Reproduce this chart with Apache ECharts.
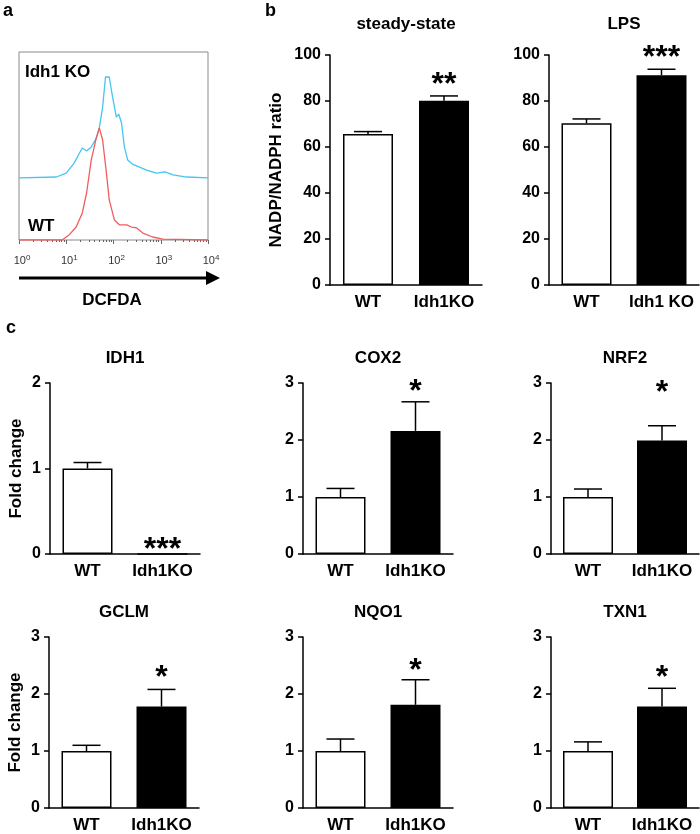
<!DOCTYPE html>
<html><head><meta charset="utf-8">
<script src="https://cdn.jsdelivr.net/npm/echarts@6/dist/echarts.min.js"></script>
<style>html,body{margin:0;padding:0;background:#fff}#c{width:700px;height:834px}</style>
</head><body><div id="c"></div>
<script>
// ---------- Panel a: DCFDA flow histogram (x = log10 fluorescence, y = relative count) ----------
const koLogFluor = [0, 0.79, 1.0, 1.17, 1.28, 1.34, 1.43, 1.53, 1.64, 1.70, 1.77, 1.83, 1.91, 1.98, 2.06, 2.11, 2.17, 2.23, 2.30, 2.40, 2.55, 2.70, 2.91, 3.09, 3.26, 3.55, 4.0];
const koCount    = [33.0, 33.5, 35.6, 41.0, 46.3, 48.9, 47.3, 49.5, 54.3, 59.6, 70.7, 86.7, 86.7, 76.1, 65.4, 67.0, 62.2, 49.5, 42.6, 40.4, 38.8, 37.2, 35.6, 36.2, 34.6, 33.5, 33.0];
const wtLogFluor = [0, 0.91, 1.06, 1.21, 1.34, 1.43, 1.53, 1.64, 1.70, 1.77, 1.85, 1.91, 2.02, 2.13, 2.28, 2.38, 2.49, 2.62, 2.83, 3.04, 4.0];
const wtCount    = [0, 0, 2.7, 6.9, 14.4, 25.0, 42.6, 54.8, 59.6, 53.2, 35.6, 21.3, 10.6, 8.0, 8.0, 6.9, 6.4, 3.7, 1.6, 0.5, 0];
const histDecades = [0, 1, 2, 3, 4];

// ---------- Panel b: NADP/NADPH ratio ----------
const groups = ['WT', 'Idh1KO'];
const groupsLPS = ['WT', 'Idh1 KO'];
const steadyMean = [65.6, 80.1], steadyErr = [1.1, 2.1];
const lpsMean = [70.3, 91.2], lpsErr = [1.9, 2.6];

// ---------- Panel c: fold change ----------
const idh1Mean = [1.0, 0.0], idh1Err = [0.07, 0.0];
const cox2Mean = [1.0, 2.16], cox2Err = [0.15, 0.51];
const nrf2Mean = [1.0, 1.99], nrf2Err = [0.14, 0.26];
const gclmMean = [1.0, 1.78], gclmErr = [0.10, 0.30];
const nqo1Mean = [1.0, 1.81], nqo1Err = [0.21, 0.44];
const txn1Mean = [1.0, 1.78], txn1Err = [0.16, 0.32];

// significance marks (label, y value of mark centre) on the KO bar
const sigLabels = ['**', '***', '***', '*', '*', '*', '*', '*'];
const sigY = [89, 101, 0.1, 2.92, 2.91, 2.37, 2.49, 2.37];

const FONT = '"Liberation Sans", Arial, sans-serif';

const panels = [
  {title: 'steady-state', cats: groups, mean: steadyMean, err: steadyErr, max: 100, interval: 20, left: 330, top: 55, width: 152, height: 230, yName: 'NADP/NADPH ratio', nameGap: 45},
  {title: 'LPS', cats: groupsLPS, mean: lpsMean, err: lpsErr, max: 100, interval: 20, left: 549, top: 55, width: 150, height: 230},
  {title: 'IDH1', cats: groups, mean: idh1Mean, err: idh1Err, max: 2, interval: 1, left: 50, top: 383, width: 150, height: 171, yName: 'Fold change', nameGap: 25},
  {title: 'COX2', cats: groups, mean: cox2Mean, err: cox2Err, max: 3, interval: 1, left: 303, top: 383, width: 150, height: 171},
  {title: 'NRF2', cats: groups, mean: nrf2Mean, err: nrf2Err, max: 3, interval: 1, left: 551, top: 383, width: 148, height: 171},
  {title: 'GCLM', cats: groups, mean: gclmMean, err: gclmErr, max: 3, interval: 1, left: 49, top: 637, width: 150, height: 171, yName: 'Fold change', nameGap: 25},
  {title: 'NQO1', cats: groups, mean: nqo1Mean, err: nqo1Err, max: 3, interval: 1, left: 303, top: 637, width: 150, height: 171},
  {title: 'TXN1', cats: groups, mean: txn1Mean, err: txn1Err, max: 3, interval: 1, left: 551, top: 637, width: 148, height: 171}
];

const grid = [{left: 19, top: 52, width: 189, height: 188, show: true, borderColor: '#8a8a8a', borderWidth: 1, backgroundColor: 'transparent'}];
const minorTicks = [];
for (let n = 0; n < 4; n++) for (let k = 2; k <= 9; k++) minorTicks.push(n + Math.log10(k));
const xAxis = [
  {gridIndex: 0, type: 'value', min: 0, max: 4, interval: 1, axisLine: {show: false}, splitLine: {show: false},
   axisTick: {show: true, length: 4, lineStyle: {color: '#666', width: 1}},
   axisLabel: {margin: 14, formatter: v => '{b|10}{s|' + histDecades[Math.round(v)] + '}',
     rich: {b: {fontFamily: FONT, fontSize: 11, color: '#333', lineHeight: 14, padding: [0, 0, 0, 6]}, s: {fontFamily: FONT, fontSize: 8, color: '#333', lineHeight: 8, verticalAlign: 'top'}}}},
  {gridIndex: 0, type: 'value', min: 0, max: 4, position: 'bottom', axisLine: {show: false}, splitLine: {show: false}, axisLabel: {show: false},
   axisTick: {show: true, length: 2, customValues: minorTicks, lineStyle: {color: '#666', width: 1}}}
];
const yAxis = [{gridIndex: 0, type: 'value', min: 0, max: 100, show: false}];
const series = [
  {type: 'line', xAxisIndex: 0, yAxisIndex: 0, data: koLogFluor.map((x, i) => [x, koCount[i]]), showSymbol: false, symbol: 'none', lineStyle: {color: '#45c6ee', width: 1.3}, silent: true},
  {type: 'line', xAxisIndex: 0, yAxisIndex: 0, data: wtLogFluor.map((x, i) => [x, wtCount[i]]), showSymbol: false, symbol: 'none', lineStyle: {color: '#f25c5c', width: 1.3}, silent: true}
];
const graphic = [];
const txt = (x, y, text, size, align) => ({type: 'text', x, y, style: {text, fill: '#000', font: 'bold ' + size + 'px ' + FONT, align: align || 'center', verticalAlign: 'middle'}});

panels.forEach((p, i) => {
  const gi = i + 1;       // grid / yAxis index
  const xi = i + 2;       // xAxis index (two x axes in panel a)
  grid.push({left: p.left, top: p.top, width: p.width, height: p.height});
  xAxis.push({gridIndex: gi, type: 'category', data: p.cats, axisLine: {lineStyle: {color: '#000', width: 1.5}},
    axisTick: {alignWithLabel: true, length: 5, lineStyle: {color: '#000', width: 1.5}},
    axisLabel: {interval: 0, hideOverlap: false, color: '#000', fontFamily: FONT, fontWeight: 'bold', fontSize: 17, margin: 9}});
  yAxis.push({gridIndex: gi, type: 'value', min: 0, max: p.max, interval: p.interval, splitLine: {show: false},
    axisLine: {show: true, lineStyle: {color: '#000', width: 1.5}},
    axisTick: {show: true, length: 5, lineStyle: {color: '#000', width: 1.5}},
    axisLabel: {color: '#000', fontFamily: FONT, fontWeight: 'bold', fontSize: 16, margin: 9},
    name: p.yName || '', nameLocation: 'middle', nameGap: p.nameGap || 0, nameRotate: 90,
    nameTextStyle: {color: '#000', fontFamily: FONT, fontWeight: 'bold', fontSize: 17}});
  series.push({type: 'bar', xAxisIndex: xi, yAxisIndex: gi, barWidth: 50, silent: true,
    data: p.mean.map((v, j) => ({value: v, itemStyle: j === 0 ? {color: '#fff', borderColor: '#000', borderWidth: 1.5} : {color: '#000', borderColor: '#000', borderWidth: 1.5}}))});
  series.push({type: 'custom', xAxisIndex: xi, yAxisIndex: gi, silent: true, z: 1,
    data: p.mean.map((v, j) => [j, v, p.err[j]]),
    renderItem: (params, api) => {
      const e = api.value(2);
      if (!e) return {type: 'group', children: []};
      const a = api.coord([api.value(0), api.value(1)]);
      const b = api.coord([api.value(0), api.value(1) + e]);
      const st = {stroke: '#000', lineWidth: 1.5};
      return {type: 'group', children: [
        {type: 'line', shape: {x1: a[0], y1: a[1], x2: b[0], y2: b[1]}, style: st},
        {type: 'line', shape: {x1: b[0] - 14, y1: b[1], x2: b[0] + 14, y2: b[1]}, style: st}
      ]};
    }});
  series.push({type: 'custom', xAxisIndex: xi, yAxisIndex: gi, silent: true, clip: false,
    data: [[1, sigY[i]]],
    renderItem: (params, api) => {
      const c = api.coord([api.value(0), api.value(1)]);
      return {type: 'text', x: c[0], y: c[1] + 5, style: {text: sigLabels[i], fill: '#000', font: 'bold 32px ' + FONT, align: 'center', verticalAlign: 'middle'}};
    }});
  graphic.push(txt(p.left + p.width / 2, p.top - (p.top < 100 ? 31 : 25), p.title, 17));
});

// panel a annotations
graphic.push(txt(25, 72, 'Idh1 KO', 17, 'left'));
graphic.push(txt(28, 226, 'WT', 17, 'left'));
graphic.push({type: 'line', shape: {x1: 19, y1: 278, x2: 210, y2: 278}, style: {stroke: '#000', lineWidth: 3}});
graphic.push({type: 'polygon', shape: {points: [[206, 271], [220, 278], [206, 285]]}, style: {fill: '#000'}});
graphic.push(txt(112, 300, 'DCFDA', 17));
// panel letters
graphic.push(txt(3, 11, 'a', 18, 'left'));
graphic.push(txt(265, 11, 'b', 18, 'left'));
graphic.push(txt(6, 328, 'c', 18, 'left'));

const chart = echarts.init(document.getElementById('c'), null, {renderer: 'canvas'});
chart.setOption({animation: false, backgroundColor: '#fff', grid, xAxis, yAxis, series, graphic});
</script></body></html>
